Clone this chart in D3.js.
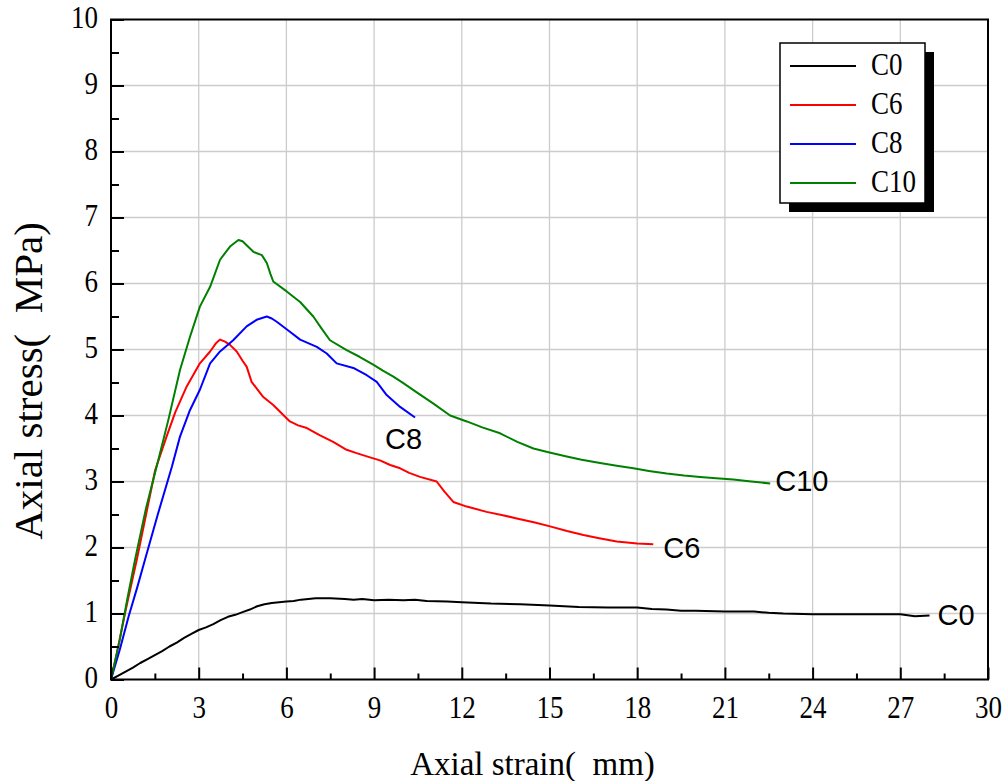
<!DOCTYPE html>
<html>
<head>
<meta charset="utf-8">
<script src="https://cdn.jsdelivr.net/npm/d3@7"></script>
<style>
  body { margin: 0; background: #fff; }
  svg { display: block; }
</style>
</head>
<body>
<svg id="chart" width="1005" height="781"></svg>
<script>
// ---------- data ----------
const seriesNames = ["C0", "C6", "C8", "C10"];
const seriesColors = ["#000000", "#ff0000", "#0000ff", "#008000"];

const c0 = [[0,0],[0.25,0.06],[0.5,0.12],[0.75,0.18],[1.0,0.25],[1.25,0.31],[1.5,0.37],[1.75,0.43],[2.0,0.5],[2.25,0.56],[2.5,0.63],[2.75,0.69],[3.0,0.75],[3.25,0.79],[3.5,0.84],[3.75,0.9],[4.0,0.95],[4.25,0.98],[4.5,1.02],[4.75,1.06],[5.0,1.11],[5.25,1.14],[5.5,1.16],[5.75,1.17],[6.0,1.18],[6.25,1.19],[6.5,1.21],[6.75,1.22],[7.0,1.23],[7.5,1.23],[8.0,1.22],[8.3,1.21],[8.6,1.22],[9.0,1.2],[9.5,1.21],[10.0,1.2],[10.4,1.21],[10.8,1.19],[11.5,1.18],[12,1.17],[13,1.15],[14,1.14],[15,1.12],[16,1.1],[17,1.09],[18,1.09],[18.5,1.07],[19,1.06],[19.5,1.04],[20,1.04],[21,1.03],[22,1.03],[22.5,1.01],[23,1.0],[24,0.99],[25,0.99],[26,0.99],[27,0.99],[27.5,0.96],[28,0.97]];

const c6 = [[0,0],[0.2,0.4],[0.5,1.05],[0.88,1.81],[1.2,2.5],[1.51,3.17],[1.9,3.68],[2.2,4.05],[2.59,4.44],[3.04,4.79],[3.39,4.97],[3.6,5.1],[3.73,5.15],[3.9,5.12],[4.07,5.07],[4.3,4.97],[4.5,4.83],[4.64,4.74],[4.81,4.51],[5.0,4.4],[5.21,4.28],[5.55,4.16],[5.8,4.05],[6.12,3.91],[6.4,3.85],[6.7,3.81],[7.15,3.7],[7.6,3.6],[8.06,3.48],[8.4,3.43],[8.75,3.38],[9.2,3.32],[9.55,3.25],[9.89,3.2],[10.2,3.13],[10.57,3.07],[11.14,3.0],[11.4,2.85],[11.71,2.69],[12.17,2.62],[12.85,2.54],[13.4,2.49],[13.88,2.44],[14.5,2.38],[15.02,2.32],[15.6,2.25],[16.16,2.19],[16.7,2.14],[17.3,2.09],[18.0,2.06],[18.55,2.05]];

const c8 = [[0,0],[0.3,0.45],[0.6,0.95],[0.9,1.4],[1.16,1.81],[1.6,2.5],[2.08,3.22],[2.36,3.68],[2.7,4.08],[3.04,4.39],[3.39,4.79],[3.73,4.97],[4.18,5.14],[4.64,5.35],[4.98,5.45],[5.33,5.5],[5.5,5.47],[5.67,5.42],[6.12,5.27],[6.47,5.15],[7.04,5.04],[7.38,4.94],[7.72,4.79],[8.29,4.72],[8.75,4.61],[9.09,4.51],[9.43,4.31],[9.89,4.13],[10.4,3.97]];

const c10 = [[0,0],[0.3,0.6],[0.55,1.2],[0.82,1.81],[1.2,2.6],[1.62,3.33],[1.96,3.93],[2.36,4.69],[2.7,5.19],[3.04,5.65],[3.39,5.95],[3.73,6.36],[4.07,6.56],[4.36,6.66],[4.5,6.64],[4.64,6.58],[4.87,6.48],[5.16,6.43],[5.33,6.31],[5.45,6.15],[5.55,6.03],[6.01,5.88],[6.47,5.72],[6.92,5.5],[7.2,5.32],[7.49,5.14],[8.06,4.99],[8.5,4.89],[8.97,4.77],[9.3,4.68],[9.66,4.59],[10.0,4.49],[10.46,4.35],[11.03,4.18],[11.6,4.0],[12.17,3.91],[12.7,3.82],[13.31,3.73],[13.9,3.6],[14.45,3.5],[15.0,3.44],[15.59,3.38],[16.1,3.33],[16.73,3.28],[17.3,3.24],[17.87,3.2],[18.4,3.16],[19.01,3.12],[19.6,3.09],[20.15,3.07],[20.7,3.05],[21.29,3.03],[21.9,3.0],[22.55,2.97]];

const seriesData = [c0, c6, c8, c10];

const xTicks = [0, 3, 6, 9, 12, 15, 18, 21, 24, 27, 30];
const xMinorTicks = [1.5, 4.5, 7.5, 10.5, 13.5, 16.5, 19.5, 22.5, 25.5, 28.5];
const yTicks = [0, 1, 2, 3, 4, 5, 6, 7, 8, 9, 10];
const yMinorTicks = [0.5, 1.5, 2.5, 3.5, 4.5, 5.5, 6.5, 7.5, 8.5, 9.5];

const xTitle = "Axial strain(\u00a0\u00a0mm)";
const yTitle = "Axial stress(\u00a0\u00a0MPa)";

// ---------- layout ----------
const L = 111, R = 988, T = 19.5, B = 679.5;
const svg = d3.select("#chart");
const x = d3.scaleLinear().domain([0, 30]).range([L, R]);
const y = d3.scaleLinear().domain([0, 10]).range([B, T]);

const serif = "'Liberation Serif', 'Times New Roman', serif";
const sans = "'Liberation Sans', Arial, sans-serif";

// grid
const grid = svg.append("g").attr("stroke", "#cccccc").attr("stroke-width", 1.3);
grid.selectAll("line.gx").data(xTicks.slice(1, -1)).join("line")
  .attr("x1", d => x(d)).attr("x2", d => x(d)).attr("y1", T).attr("y2", B);
grid.selectAll("line.gy").data(yTicks.slice(1, -1)).join("line")
  .attr("x1", L).attr("x2", R).attr("y1", d => y(d)).attr("y2", d => y(d));

// series
const line = d3.line().x(d => x(d[0])).y(d => y(d[1]));
svg.append("g").selectAll("path").data(seriesData).join("path")
  .attr("d", line)
  .attr("fill", "none")
  .attr("stroke", (d, i) => seriesColors[i])
  .attr("stroke-width", 2)
  .attr("stroke-linejoin", "round");

// frame
svg.append("rect").attr("x", L).attr("y", T).attr("width", R - L).attr("height", B - T)
  .attr("fill", "none").attr("stroke", "#000").attr("stroke-width", 2);

// axes
function styleAxis(g) {
  g.select(".domain").remove();
  g.selectAll(".tick line").attr("stroke", "#000").attr("stroke-width", 2);
}
const xAxis = svg.append("g").attr("transform", `translate(0,${B})`)
  .call(d3.axisBottom(x).tickValues(xTicks).tickSize(-12).tickFormat(d3.format("d")));
styleAxis(xAxis);
xAxis.selectAll(".tick text")
  .attr("y", 0).attr("dy", 0)
  .attr("transform", "translate(0,38) scale(1,1.2)")
  .attr("font-family", serif).attr("font-size", 27).attr("fill", "#000");
const xMinor = svg.append("g").attr("transform", `translate(0,${B})`)
  .call(d3.axisBottom(x).tickValues(xMinorTicks).tickSize(-6).tickFormat(""));
styleAxis(xMinor);

const yAxis = svg.append("g").attr("transform", `translate(${L},0)`)
  .call(d3.axisLeft(y).tickValues(yTicks).tickSize(-13).tickFormat(d3.format("d")));
styleAxis(yAxis);
yAxis.selectAll(".tick text")
  .attr("x", 0).attr("dy", 0)
  .attr("transform", "translate(-13,8) scale(1,1.2)")
  .attr("font-family", serif).attr("font-size", 27).attr("fill", "#000");
const yMinor = svg.append("g").attr("transform", `translate(${L},0)`)
  .call(d3.axisLeft(y).tickValues(yMinorTicks).tickSize(-8).tickFormat(""));
styleAxis(yMinor);
svg.selectAll(".tick").attr("font-family", null);

// axis titles
svg.append("text").attr("x", (L + R) / 2 - 17).attr("y", 775)
  .attr("text-anchor", "middle").attr("font-family", serif).attr("font-size", 33)
  .text(xTitle);
svg.append("text").attr("transform", `translate(42,381) rotate(-90)`)
  .attr("text-anchor", "middle").attr("font-family", serif).attr("font-size", 41)
  .text(yTitle);

// end labels
const endOffsets = [[8, 9.5], [10, 14], [-30, 32], [5, 8]];
svg.append("g").selectAll("text").data(seriesData).join("text")
  .attr("x", (d, i) => x(d[d.length - 1][0]) + endOffsets[i][0])
  .attr("y", (d, i) => y(d[d.length - 1][1]) + endOffsets[i][1])
  .attr("font-family", sans).attr("font-size", 29).attr("fill", "#000")
  .text((d, i) => seriesNames[i]);

// legend
const lg = svg.append("g");
lg.append("rect").attr("x", 789).attr("y", 52).attr("width", 145).attr("height", 160).attr("fill", "#000");
lg.append("rect").attr("x", 780).attr("y", 43).attr("width", 145).attr("height", 160)
  .attr("fill", "#fff").attr("stroke", "#000").attr("stroke-width", 1.5);
const items = lg.selectAll("g.item").data(seriesNames).join("g")
  .attr("transform", (d, i) => `translate(0,${66 + i * 39})`);
items.append("line").attr("x1", 790).attr("x2", 856).attr("y1", 0).attr("y2", 0)
  .attr("stroke", (d, i) => seriesColors[i]).attr("stroke-width", 2);
items.append("text").attr("transform", "translate(871,9) scale(1,1.2)")
  .attr("font-family", serif).attr("font-size", 27).attr("fill", "#000")
  .text(d => d);
</script>
</body>
</html>
